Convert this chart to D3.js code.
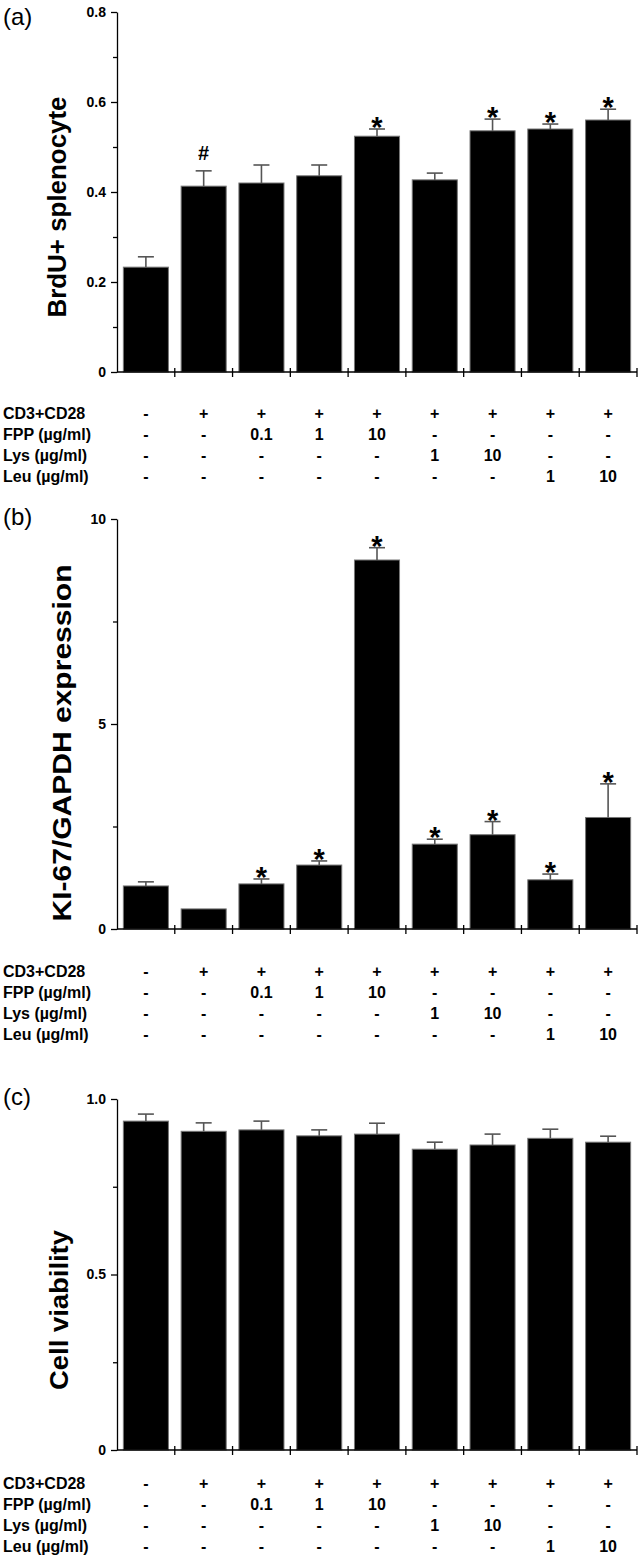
<!DOCTYPE html>
<html>
<head>
<meta charset="utf-8">
<script src="https://cdn.jsdelivr.net/npm/d3@7"></script>
<style>
  body { margin: 0; background: #fff; }
  svg { display: block; font-family: 'Liberation Sans', Arial, sans-serif; }
</style>
</head>
<body>
<div id="chart"></div>
<script>
// treatment table, one entry per bar
const rowLabels = ['CD3+CD28', 'FPP (\u00b5g/ml)', 'Lys (\u00b5g/ml)', 'Leu (\u00b5g/ml)'];
const cd3Row = ['-', '+', '+', '+', '+', '+', '+', '+', '+'];
const fppRow = ['-', '-', '0.1', '1', '10', '-', '-', '-', '-'];
const lysRow = ['-', '-', '-', '-', '-', '1', '10', '-', '-'];
const leuRow = ['-', '-', '-', '-', '-', '-', '-', '1', '10'];

// (a) BrdU+ splenocyte
const brduMean = [0.233, 0.413, 0.42, 0.436, 0.524, 0.427, 0.536, 0.54, 0.56];
const brduErr = [0.023, 0.034, 0.04, 0.024, 0.016, 0.015, 0.026, 0.011, 0.024];
const brduMark = ['', '#', '', '', '*', '', '*', '*', '*'];
const brduTicks = [0, 0.2, 0.4, 0.6, 0.8];
const brduMinor = [0.1, 0.3, 0.5, 0.7];

// (b) KI-67/GAPDH expression
const ki67Mean = [1.05, 0.49, 1.1, 1.56, 9.0, 2.07, 2.3, 1.2, 2.72];
const ki67Err = [0.1, 0, 0.12, 0.1, 0.3, 0.12, 0.32, 0.14, 0.82];
const ki67Mark = ['', '', '*', '*', '*', '*', '*', '*', '*'];
const ki67Ticks = [0, 5, 10];
const ki67Minor = [2.5, 7.5];

// (c) Cell viability
const viabMean = [0.937, 0.908, 0.912, 0.895, 0.9, 0.857, 0.869, 0.888, 0.877];
const viabErr = [0.02, 0.024, 0.025, 0.017, 0.031, 0.02, 0.031, 0.026, 0.017];
const viabMark = ['', '', '', '', '', '', '', '', ''];
const viabTicks = [0, 0.5, 1.0];
const viabMinor = [0.25, 0.75];

const tableRows = [cd3Row, fppRow, lysRow, leuRow];
const fmtDec = (d) => (d === 0 ? '0' : d3.format('.1f')(d));

const width = 644;
const height = 1568;
const xLeft = 117;
const xRight = 637;
const font = "'Liberation Sans', Arial, sans-serif";

const svg = d3.select('#chart')
  .append('svg')
  .attr('width', width)
  .attr('height', height);

const x = d3.scaleBand()
  .domain(d3.range(cd3Row.length))
  .range([xLeft, xRight])
  .paddingInner(0.22)
  .paddingOuter(0.11);

function drawPanel(p) {
  const g = svg.append('g').attr('class', `panel panel-${p.key}`);
  const y = d3.scaleLinear().domain([0, p.max]).range([p.zero, p.top]);
  const data = p.mean.map((m, i) => ({ i, m, e: p.err[i], mark: p.mark[i] }));

  // panel letter
  g.append('text')
    .attr('x', 3)
    .attr('y', p.letterY)
    .attr('font-size', 24)
    .text(p.letter);

  // y title
  const title = g.append('text')
    .attr('transform', `translate(${p.titleX},${p.titleY}) rotate(-90)`)
    .attr('text-anchor', 'middle')
    .attr('font-size', 25)
    .attr('font-weight', 'bold')
    .text(p.title);
  if (p.titleLen) {
    title.attr('textLength', p.titleLen).attr('lengthAdjust', 'spacingAndGlyphs');
  }

  // bars
  g.append('g').selectAll('rect')
    .data(data)
    .join('rect')
    .attr('x', (d) => x(d.i))
    .attr('y', (d) => y(d.m))
    .attr('width', x.bandwidth())
    .attr('height', (d) => p.zero - y(d.m))
    .attr('fill', '#000')
    .attr('stroke', '#777')
    .attr('stroke-width', 1);

  // error bars (upper only)
  const eb = g.append('g')
    .attr('stroke', '#555')
    .attr('stroke-width', 1.6)
    .selectAll('g')
    .data(data.filter((d) => d.e > 0))
    .join('g');
  eb.append('line')
    .attr('x1', (d) => x(d.i) + x.bandwidth() / 2)
    .attr('x2', (d) => x(d.i) + x.bandwidth() / 2)
    .attr('y1', (d) => y(d.m))
    .attr('y2', (d) => y(d.m + d.e));
  eb.append('line')
    .attr('x1', (d) => x(d.i) + x.bandwidth() / 2 - 8)
    .attr('x2', (d) => x(d.i) + x.bandwidth() / 2 + 8)
    .attr('y1', (d) => y(d.m + d.e))
    .attr('y2', (d) => y(d.m + d.e));

  // significance marks
  g.append('g').selectAll('text')
    .data(data.filter((d) => d.mark))
    .join('text')
    .attr('x', (d) => x(d.i) + x.bandwidth() / 2)
    .attr('y', (d) => (d.mark === '#' ? y(d.m + d.e) - 11 : y(d.m + d.e) + 8))
    .attr('text-anchor', 'middle')
    .attr('font-weight', 'bold')
    .attr('font-size', (d) => (d.mark === '#' ? 20 : 29))
    .text((d) => d.mark);

  // y axis, major + minor ticks
  g.append('g')
    .attr('transform', `translate(${xLeft},0)`)
    .call(d3.axisLeft(y).tickValues(p.ticks).tickFormat(p.fmt).tickSize(6).tickPadding(5).tickSizeOuter(0))
    .call((a) => a.selectAll('line, path').attr('stroke', '#000').attr('stroke-width', 1.3))
    .call((a) => a.selectAll('text')
      .style('font-size', '14px')
      .style('font-weight', 'bold')
      .style('font-family', font)
      .attr('fill', '#000'));
  g.append('g')
    .attr('transform', `translate(${xLeft},0)`)
    .call(d3.axisLeft(y).tickValues(p.minor).tickFormat('').tickSize(4).tickSizeOuter(0))
    .call((a) => a.select('.domain').remove())
    .call((a) => a.selectAll('line').attr('stroke', '#000').attr('stroke-width', 1.3));

  // x axis with ticks between groups
  const boundaries = d3.range(1, cd3Row.length + 1)
    .map((i) => xLeft + i * x.step());
  const xa = g.append('g').attr('stroke', '#000').attr('stroke-width', 1.3);
  xa.append('line')
    .attr('x1', xLeft)
    .attr('x2', xRight)
    .attr('y1', p.zero)
    .attr('y2', p.zero);
  xa.selectAll('line.bt')
    .data(boundaries)
    .join('line')
    .attr('class', 'bt')
    .attr('x1', (d) => d)
    .attr('x2', (d) => d)
    .attr('y1', p.zero - 4)
    .attr('y2', p.zero + 5);

  // treatment table
  const tbl = g.append('g')
    .style('font-size', '16px')
    .style('font-weight', 'bold');
  rowLabels.forEach((label, r) => {
    const yy = p.zero + p.tableGap + r * 21;
    tbl.append('text').attr('x', 3).attr('y', yy).text(label);
    tbl.selectAll(`text.v${r}`)
      .data(tableRows[r])
      .join('text')
      .attr('class', `v${r}`)
      .attr('x', (d, i) => x(i) + x.bandwidth() / 2)
      .attr('y', yy)
      .attr('text-anchor', 'middle')
      .text((d) => d);
  });
}

drawPanel({
  key: 'a', letter: '(a)', letterY: 25,
  top: 12, zero: 372, max: 0.8,
  ticks: brduTicks, minor: brduMinor, fmt: fmtDec,
  title: 'BrdU+ splenocyte', titleX: 66, titleY: 207, titleLen: 221,
  mean: brduMean, err: brduErr, mark: brduMark, tableGap: 47,
});

drawPanel({
  key: 'b', letter: '(b)', letterY: 525,
  top: 519, zero: 929, max: 10,
  ticks: ki67Ticks, minor: ki67Minor, fmt: d3.format('d'),
  title: 'KI-67/GAPDH expression', titleX: 71, titleY: 743, titleLen: 357,
  mean: ki67Mean, err: ki67Err, mark: ki67Mark, tableGap: 48,
});

drawPanel({
  key: 'c', letter: '(c)', letterY: 1105,
  top: 1099, zero: 1450, max: 1.0,
  ticks: viabTicks, minor: viabMinor, fmt: fmtDec,
  title: 'Cell viability', titleX: 68, titleY: 1310, titleLen: 160,
  mean: viabMean, err: viabErr, mark: viabMark, tableGap: 39,
});
</script>
</body>
</html>
